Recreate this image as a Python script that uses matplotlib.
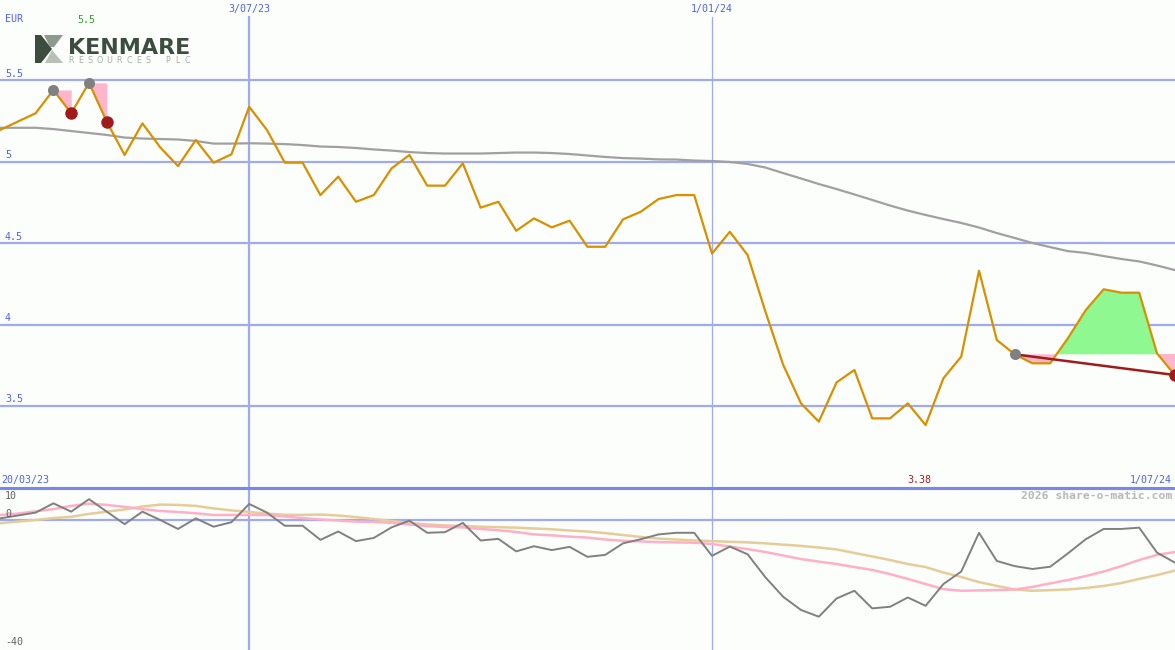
import matplotlib
matplotlib.use("Agg")
import matplotlib.pyplot as plt
from matplotlib.patches import Polygon
import numpy as np

# ---------------- data ----------------
price = [5.193, 5.245, 5.296, 5.439, 5.296, 5.483, 5.244, 5.040, 5.234, 5.087,
         4.972, 5.132, 4.993, 5.044, 5.336, 5.193, 4.993, 4.993, 4.794, 4.907,
         4.753, 4.794, 4.958, 5.040, 4.852, 4.852, 4.989, 4.717, 4.753, 4.575,
         4.651, 4.596, 4.637, 4.477, 4.477, 4.645, 4.692, 4.770, 4.794, 4.794,
         4.435, 4.569, 4.426, 4.079, 3.752, 3.516, 3.404, 3.645, 3.721, 3.424,
         3.424, 3.516, 3.383, 3.670, 3.803, 4.330, 3.905, 3.817, 3.762, 3.762,
         3.917, 4.089, 4.216, 4.195, 4.195, 3.823, 3.690]

ma_long = [5.207, 5.207, 5.207, 5.199, 5.187, 5.175, 5.163, 5.147, 5.141, 5.138,
           5.135, 5.126, 5.110, 5.110, 5.112, 5.110, 5.107, 5.101, 5.092, 5.089,
           5.083, 5.074, 5.067, 5.058, 5.052, 5.049, 5.049, 5.049, 5.052, 5.055,
           5.055, 5.052, 5.046, 5.037, 5.028, 5.021, 5.018, 5.013, 5.012, 5.006,
           5.003, 4.997, 4.985, 4.963, 4.929, 4.896, 4.862, 4.831, 4.798, 4.764,
           4.730, 4.699, 4.672, 4.647, 4.623, 4.595, 4.561, 4.531, 4.500, 4.475,
           4.450, 4.439, 4.420, 4.402, 4.387, 4.362, 4.334]

osc = [0.5, 1.4, 2.3, 5.2, 2.6, 6.5, 2.6, -1.3, 2.6, 0.0,
       -2.8, 0.5, -2.1, -0.7, 5.0, 2.3, -1.8, -1.8, -6.2, -3.6,
       -6.6, -5.6, -2.3, -0.2, -4.0, -3.8, -0.9, -6.4, -5.9, -9.8,
       -8.2, -9.4, -8.4, -11.5, -10.9, -7.3, -6.0, -4.5, -4.0, -4.0,
       -11.2, -8.3, -10.7, -17.9, -24.0, -28.1, -30.2, -24.5, -22.1, -27.6,
       -27.1, -24.2, -26.8, -20.0, -16.1, -4.0, -12.8, -14.4, -15.3, -14.6,
       -10.4, -6.0, -2.8, -2.8, -2.4, -10.2, -13.3]

osc_ma_fast = [1.56, 2.0, 2.7, 3.4, 4.4, 5.1, 4.7, 4.1, 3.4, 2.8,
               2.5, 2.1, 1.56, 1.56, 1.56, 1.56, 1.1, 0.6, 0.16, -0.16,
               -0.5, -0.6, -0.9, -1.4, -1.9, -2.2, -2.3, -2.8, -3.2, -3.75,
               -4.5, -4.8, -5.2, -5.5, -6.1, -6.5, -6.7, -6.9, -7.0, -7.1,
               -7.5, -8.3, -9.1, -10.0, -11.1, -12.2, -13.0, -13.75, -14.7, -15.6,
               -16.9, -18.4, -20.0, -21.6, -22.1, -22.0, -21.9, -21.7, -20.9, -19.8,
               -18.75, -17.5, -16.1, -14.4, -12.5, -10.9, -10.0]

osc_ma_slow = [-1.0, -0.5, 0.0, 0.6, 1.0, 1.9, 2.6, 3.3, 4.2, 4.8,
               4.7, 4.4, 3.6, 3.0, 2.5, 2.0, 1.6, 1.6, 1.7, 1.4,
               0.9, 0.3, -0.3, -0.9, -1.4, -1.7, -1.9, -2.1, -2.25, -2.4,
               -2.65, -2.9, -3.3, -3.6, -4.1, -4.7, -5.3, -5.8, -6.1, -6.4,
               -6.6, -6.8, -7.0, -7.3, -7.7, -8.1, -8.6, -9.2, -10.3, -11.4,
               -12.5, -13.75, -14.7, -16.4, -17.8, -19.4, -20.6, -21.7, -22.1, -21.9,
               -21.7, -21.25, -20.6, -19.7, -18.4, -17.2, -15.8]

signal_start = [3, 5, 57]
signal_end = [4, 6, 66]

price_ticks = [3.5, 4.0, 4.5, 5.0, 5.5]
price_tick_labels = ["3.5", "4", "4.5", "5", "5.5"]
osc_labels = ["10", "0", "-40"]
osc_label_vals = [10, 0, -40]
date_labels = ["20/03/23", "3/07/23", "1/01/24", "1/07/24"]
date_pos = [0, 14, 40, 66]
currency = "EUR"
max_label = "5.5"
min_label = "3.38"
logo_name = "KENMARE"
logo_sub = "RESOURCES PLC"

# ---------------- style ----------------
W, H = 1175, 650
BG = "#fbfefb"
GRID = "#a0aaf0"
SEP = "#7a86ee"
BLUE_TXT = "#5060f0"
PRICE_C = "#d89000"
MA_C = "#a0a0a0"
MONO = "DejaVu Sans Mono"

fig = plt.figure(figsize=(W / 100, H / 100), dpi=100, facecolor=BG)

def fx(x):
    return x / W

def fy(y):
    return 1 - y / H

x = np.arange(len(price))
xmax = len(price) - 1 + 0.01

# main axes: pixel rows 0..487
ax = fig.add_axes([0, fy(487), 1, 487 / H])
ax.set_facecolor(BG)
ax.set_xlim(0, xmax)
ax.set_ylim(3.003, 5.991)
ax.axis("off")

for t in price_ticks:
    ax.axhline(t, color=GRID, lw=1.6, zorder=1)
ax.axvline(date_pos[1], ymax=(487 - 17) / 487, color=GRID, lw=1.6, zorder=1)
ax.axvline(date_pos[2], ymax=(487 - 17) / 487, color=GRID, lw=0.9, zorder=1)

# signals
pr = np.array(price)
for k, (s, e) in enumerate(zip(signal_start, signal_end)):
    xs = x[s:e + 1]
    ys = pr[s:e + 1]
    lvl = pr[s]
    if k < 2:
        ax.fill_between(xs, lvl, ys, color="#ffb6cc", lw=0, zorder=2)
    else:
        ax.fill_between(xs, lvl, ys, where=ys <= lvl, interpolate=True,
                        color="#ffb6cc", lw=0, zorder=2)
        ax.fill_between(xs, lvl, ys, where=ys >= lvl, interpolate=True,
                        color="#90f890", lw=0, zorder=2)
        ax.plot([s, e], [pr[s], pr[e]], color="#a01c1c", lw=1.8, zorder=4)

ax.plot(x, ma_long, color=MA_C, lw=1.6, zorder=3)
ax.plot(x, price, color=PRICE_C, lw=1.6, zorder=3)

for s, e in zip(signal_start, signal_end):
    ax.plot(s, pr[s], "o", ms=8, color="#808080", mec="none", zorder=5)
    ax.plot(e, pr[e], "o", ms=9, color="#a01c1c", mec="none", zorder=5)

for t, lab in zip(price_ticks, price_tick_labels):
    ax.annotate(lab, (0, t), xycoords=("axes fraction", "data"),
                xytext=(5, 1.5), textcoords="offset pixels",
                ha="left", va="bottom", fontsize=7.2, family=MONO, color=BLUE_TXT)

# lower axes: pixel rows 487..650
ax2 = fig.add_axes([0, 0, 1, 163 / H])
ax2.set_facecolor(BG)
ax2.set_xlim(0, xmax)
ax2.set_ylim(-40.6, 10.3)
ax2.axis("off")
ax2.axhline(0, color=GRID, lw=1.6, zorder=1)
ax2.axvline(date_pos[1], color=GRID, lw=1.6, zorder=1)
ax2.axvline(date_pos[2], color=GRID, lw=0.9, zorder=1)
ax2.plot(x, osc_ma_slow, color="#e6cc98", lw=1.8, zorder=2)
ax2.plot(x, osc_ma_fast, color="#ffb0c8", lw=1.8, zorder=2)
ax2.plot(x, osc, color="#808080", lw=1.4, zorder=3)

# separator
fig.add_artist(plt.Line2D([0, 1], [fy(487.5), fy(487.5)], color=SEP, lw=2.2))

for lab, v, py in zip(osc_labels, osc_label_vals, [496, 514, 642]):
    fig.text(fx(5), fy(py), lab, fontsize=7.2, family=MONO, color="#606060",
             ha="left", va="center")

# date labels
fig.text(fx(1), fy(480), date_labels[0], fontsize=7.2, family=MONO, color=BLUE_TXT,
         ha="left", va="center")
for lab, p in zip(date_labels[1:3], date_pos[1:3]):
    ax.annotate(lab, (p, 1), xycoords=("data", "axes fraction"),
                xytext=(0, -9), textcoords="offset pixels",
                ha="center", va="center", fontsize=7.2, family=MONO, color=BLUE_TXT)
fig.text(fx(1172), fy(480), date_labels[3], fontsize=7.2, family=MONO, color=BLUE_TXT,
         ha="right", va="center")

imin = int(np.argmin(pr))
ax.annotate(min_label, (imin, 0), xycoords=("data", "axes fraction"),
            xytext=(-6, 7), textcoords="offset pixels",
            ha="center", va="center", fontsize=7.2, family=MONO, color="#a02020")

fig.text(fx(5), fy(19), currency, fontsize=7.2, family=MONO, color=BLUE_TXT,
         ha="left", va="center")
fig.text(fx(77), fy(20), max_label, fontsize=7.2, family=MONO, color="#30a030",
         ha="left", va="center")

fig.text(fx(1172), fy(496), "2026 share-o-matic.com", fontsize=8.2, family=MONO,
         color="#b8b8b8", ha="right", va="center", fontweight="bold")

# logo
def poly(pts, color):
    fig.add_artist(Polygon([(fx(a), fy(b)) for a, b in pts], closed=True,
                           facecolor=color, edgecolor="none",
                           transform=fig.transFigure))

poly([(35, 35), (41, 35), (52, 49), (41, 63), (35, 63)], "#3c4c3e")
poly([(44, 35), (63, 35), (54, 47), (50, 47)], "#8e9a90")
poly([(52, 50), (63, 63), (45, 63)], "#b8c0b8")
fig.text(fx(68), fy(53.5), logo_name, fontsize=16, family="DejaVu Sans",
         fontweight="bold", color="#3c4c3e", ha="left", va="baseline")
step = (187 - 71) / (len(logo_sub) - 1)
for k, ch in enumerate(logo_sub):
    if ch != " ":
        fig.text(fx(71 + k * step), fy(60.5), ch, fontsize=5.8,
                 family="DejaVu Sans", color="#a8aca8", ha="center", va="center")

fig.savefig("out.png", dpi=100, facecolor=BG)
